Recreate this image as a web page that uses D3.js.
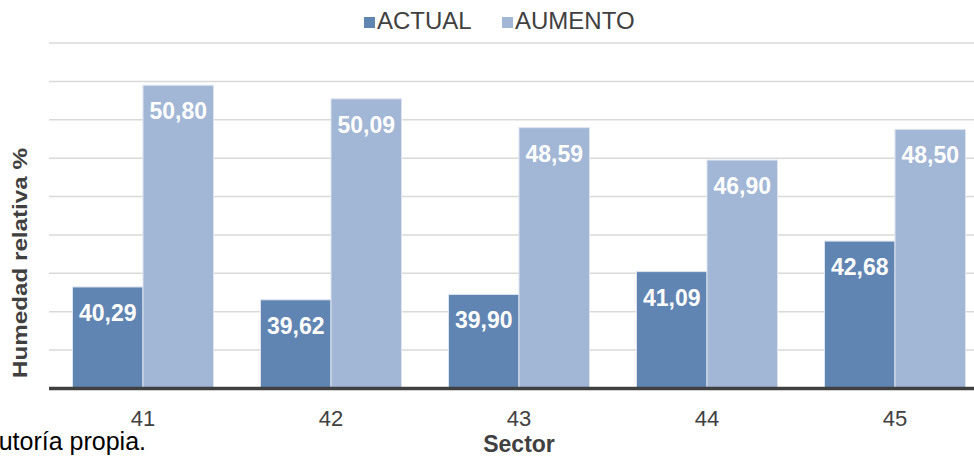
<!DOCTYPE html>
<html>
<head>
<meta charset="utf-8">
<script src="https://cdn.jsdelivr.net/npm/d3@7"></script>
<style>
  body { margin: 0; background: #fff; }
  svg { display: block; font-family: "Liberation Sans", Arial, sans-serif; }
</style>
</head>
<body>
<script>
// data
const sectors = ["41", "42", "43", "44", "45"];
const series = ["ACTUAL", "AUMENTO"];
const actual = [40.29, 39.62, 39.90, 41.09, 42.68];
const aumento = [50.80, 50.09, 48.59, 46.90, 48.50];
const gridTicks = [35, 37, 39, 41, 43, 45, 47, 49, 51, 53];

const colors = { ACTUAL: "#6085b2", AUMENTO: "#a2b6d6" };

var width = 974;
var height = 456;

var svg = d3.select("body").append("svg")
  .attr("width", width)
  .attr("height", height);

var rows = sectors.map(function (s, i) {
  return { sector: s, ACTUAL: actual[i], AUMENTO: aumento[i] };
});

var x0 = d3.scaleBand()
  .domain(sectors)
  .range([49, 989])
  .paddingInner(0.25)
  .paddingOuter(0.125);

var x1 = d3.scaleBand()
  .domain(series)
  .range([0, x0.bandwidth()]);

var y = d3.scaleLinear()
  .domain([35, 53])
  .range([388.5, 43]);

// gridlines
svg.append("g")
  .selectAll("line")
  .data(gridTicks.slice(1))
  .enter()
  .append("line")
  .attr("x1", 49)
  .attr("x2", width)
  .attr("y1", function (d) { return y(d); })
  .attr("y2", function (d) { return y(d); })
  .attr("stroke", "#d9d9d9")
  .attr("stroke-width", 1.5);

// bars
var groups = svg.append("g")
  .selectAll("g")
  .data(rows)
  .enter()
  .append("g")
  .attr("transform", function (d) { return "translate(" + x0(d.sector) + ",0)"; });

groups.selectAll("rect")
  .data(function (d) {
    return series.map(function (k) { return { key: k, value: d[k] }; });
  })
  .enter()
  .append("rect")
  .attr("x", function (d) { return x1(d.key); })
  .attr("y", function (d) { return y(d.value); })
  .attr("width", x1.bandwidth())
  .attr("height", function (d) { return y(35) - y(d.value); })
  .attr("fill", function (d) { return colors[d.key]; })
  .attr("stroke", "#dde4ef")
  .attr("stroke-width", 1);

groups.selectAll("text")
  .data(function (d) {
    return series.map(function (k) { return { key: k, value: d[k] }; });
  })
  .enter()
  .append("text")
  .attr("x", function (d) { return x1(d.key) + x1.bandwidth() / 2; })
  .attr("y", function (d) { return y(d.value) + 34; })
  .attr("text-anchor", "middle")
  .attr("fill", "#ffffff")
  .style("font-size", "23px")
  .style("font-weight", "700")
  .text(function (d) { return d.value.toFixed(2).replace(".", ","); });

// baseline
svg.append("line")
  .attr("x1", 49)
  .attr("x2", width)
  .attr("y1", y(35))
  .attr("y2", y(35))
  .attr("stroke", "#404040")
  .attr("stroke-width", 3.5);

// x axis labels
var xAxis = svg.append("g")
  .attr("transform", "translate(0," + y(35) + ")")
  .call(d3.axisBottom(x0).tickSize(0).tickPadding(22));
xAxis.select(".domain").remove();
xAxis.selectAll("text")
  .attr("fill", "#404040")
  .style("font-size", "22px")
  .style("font-family", "'Liberation Sans', Arial, sans-serif");

// axis titles
svg.append("text")
  .attr("x", 519)
  .attr("y", 452)
  .attr("text-anchor", "middle")
  .attr("fill", "#404040")
  .style("font-size", "23px")
  .style("font-weight", "700")
  .text("Sector");

svg.append("text")
  .attr("transform", "translate(27,263) rotate(-90)")
  .attr("text-anchor", "middle")
  .attr("fill", "#404040")
  .attr("textLength", 230)
  .attr("lengthAdjust", "spacingAndGlyphs")
  .style("font-size", "21px")
  .style("font-weight", "700")
  .text("Humedad relativa %");

// legend
var legendX = [364, 502];
var legend = svg.append("g")
  .selectAll("g")
  .data(series)
  .enter()
  .append("g")
  .attr("transform", function (d, i) { return "translate(" + legendX[i] + ",0)"; });

legend.append("rect")
  .attr("x", 0)
  .attr("y", 17)
  .attr("width", 11)
  .attr("height", 11)
  .attr("fill", function (d) { return colors[d]; });

legend.append("text")
  .attr("x", 13)
  .attr("y", 29)
  .attr("fill", "#404040")
  .style("font-size", "24px")
  .text(function (d) { return d; });

// caption text from the page behind the chart
svg.append("text")
  .attr("x", 146)
  .attr("y", 450)
  .attr("text-anchor", "end")
  .attr("fill", "#000000")
  .style("font-size", "25px")
  .text("Fuente: Autoría propia.");
</script>
</body>
</html>
